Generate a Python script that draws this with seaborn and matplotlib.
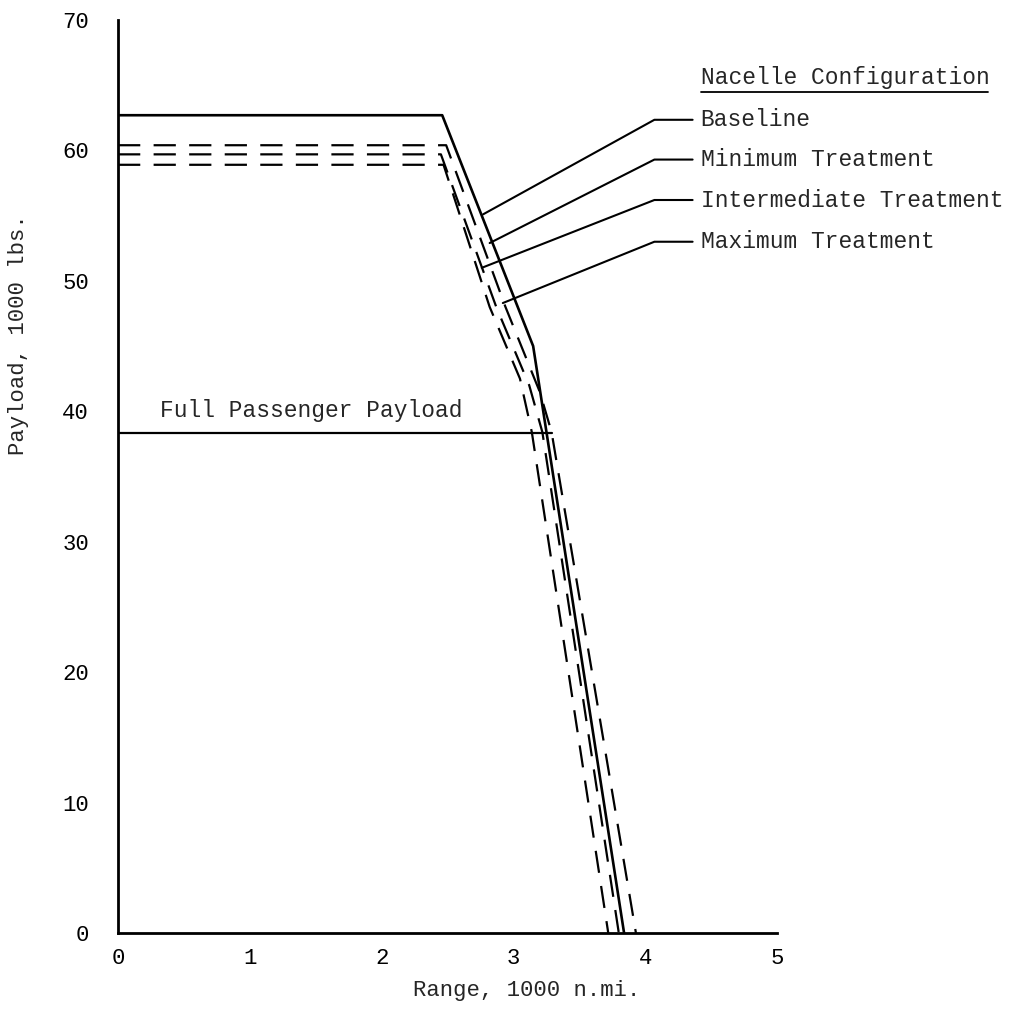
import numpy as np
import pandas as pd
import matplotlib
matplotlib.use("Agg")
import matplotlib.pyplot as plt
import seaborn as sns

# curve data (range in 1000 n.mi., payload in 1000 lbs)
range_baseline = [0, 2.46, 3.15, 3.84]
payload_baseline = [62.7, 62.7, 45.0, 0]

range_minimum = [0, 2.49, 2.94, 3.20, 3.29, 3.93]
payload_minimum = [60.4, 60.4, 48.0, 41.5, 38.4, 0]

range_intermediate = [0, 2.45, 2.87, 3.12, 3.22, 3.80]
payload_intermediate = [59.7, 59.7, 48.0, 42.0, 38.4, 0]

range_maximum = [0, 2.47, 2.82, 3.05, 3.14, 3.72]
payload_maximum = [58.9, 58.9, 48.0, 42.5, 38.4, 0]

full_payload_range = [0, 3.29]
full_payload_value = [38.3, 38.3]

legend_labels = ["Baseline", "Minimum Treatment", "Intermediate Treatment", "Maximum Treatment"]
legend_y = [62.35, 59.3, 56.2, 53.0]
leader_x = [2.77, 2.82, 2.76, 2.92]
leader_y = [55.1, 52.9, 51.0, 48.3]

x_ticks = [0, 1, 2, 3, 4, 5]
y_ticks = [0, 10, 20, 30, 40, 50, 60, 70]

sns.set_style("white")
plt.rcParams['font.family'] = ['Liberation Mono', 'DejaVu Sans Mono']

fig = plt.figure(figsize=(10.09, 10.16), dpi=100)
ax = fig.add_axes([0.117, 0.0817, 0.653, 0.8986])

fs = 16.5
dash = (0, (10, 6))
sns.lineplot(x=range_baseline, y=payload_baseline, sort=False, estimator=None,
             color='black', linewidth=1.9, ax=ax)
for rx, py in [(range_minimum, payload_minimum),
               (range_intermediate, payload_intermediate),
               (range_maximum, payload_maximum)]:
    sns.lineplot(x=rx, y=py, sort=False, estimator=None, color='black',
                 linewidth=1.6, linestyle=dash, ax=ax)
sns.lineplot(x=full_payload_range, y=full_payload_value, sort=False, estimator=None,
             color='black', linewidth=1.6, ax=ax)

ax.text(0.32, 39.6, "Full Passenger Payload", fontsize=fs, ha='left', va='baseline')

# legend with leader lines
ax.text(4.42, 65.6, "Nacelle Configuration", fontsize=fs, ha='left', va='center')
ax.plot([4.42, 6.6], [64.5, 64.5], color='black', linewidth=1.3, clip_on=False)
for lab, ly, lx, lyy in zip(legend_labels, legend_y, leader_x, leader_y):
    ax.plot([lx, 4.07, 4.36], [lyy, ly, ly], color='black', linewidth=1.5, clip_on=False)
    ax.text(4.42, ly, lab, fontsize=fs, ha='left', va='center')

ax.set_xlim(0, 5)
ax.set_ylim(0, 70)
ax.set_xticks(x_ticks)
ax.set_yticks(y_ticks)
ax.tick_params(axis='both', direction='in', length=9, width=1.5, labelsize=16, colors='black')
ax.tick_params(axis='x', pad=11)
ax.tick_params(axis='y', pad=21)

sns.despine(ax=ax)
for s in ['left', 'bottom']:
    ax.spines[s].set_linewidth(2)
    ax.spines[s].set_color('black')

ax.set_xlabel("Range, 1000 n.mi.", fontsize=16)
ax.set_ylabel("Payload, 1000 lbs.", fontsize=16)
ax.xaxis.set_label_coords(0.62, -0.052)
ax.yaxis.set_label_coords(-0.135, 0.655)

fig.savefig("out.png", dpi=100)
